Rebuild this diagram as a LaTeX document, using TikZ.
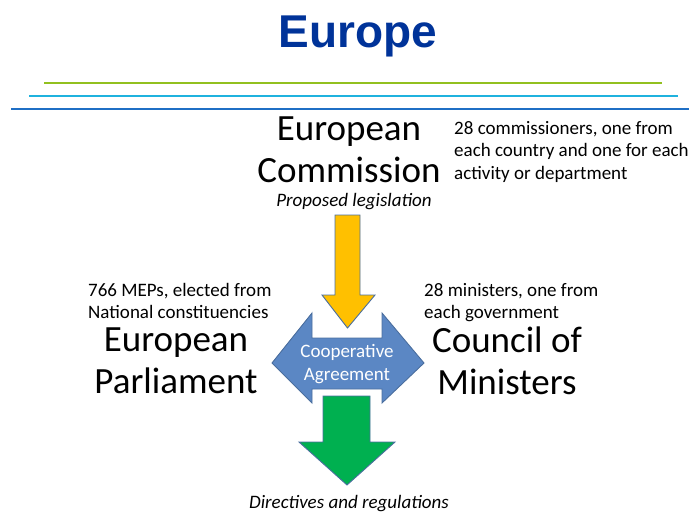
\documentclass[tikz,border=0pt]{standalone}
\usepackage{fontspec}
\setmainfont{Carlito}
\newfontfamily\titlefont{Liberation Sans}
\definecolor{titleblue}{HTML}{003399}
\definecolor{lgreen}{HTML}{92C01F}
\definecolor{lcyan}{HTML}{1FB2DE}
\definecolor{lblue}{HTML}{1F6FC5}
\definecolor{ayellow}{HTML}{FFC000}
\definecolor{ablue}{HTML}{5B87C4}
\definecolor{agreen}{HTML}{00B050}
\definecolor{aedge}{HTML}{4A6E9E}
\begin{document}
\begin{tikzpicture}[x=1pt,y=-1pt,
  bigtxt/.style={font=\fontsize{37}{42}\selectfont, align=center, inner sep=0},
  smalltxt/.style={font=\fontsize{19}{22.5}\selectfont, align=left, inner sep=0, anchor=north west},
  captxt/.style={font=\fontsize{19}{22}\selectfont\itshape, inner sep=0},
  arrowshape/.style={draw=aedge, line width=0.9pt, line join=miter}]
\useasboundingbox (0,0) rectangle (689,514);
% title
\node[font=\titlefont\bfseries\fontsize{46}{50}\selectfont, text=titleblue, inner sep=0] (title) at (358,36) {Europe};
% rules
\draw[lgreen, line width=2pt] (44,83) -- (662,83);
\draw[lcyan, line width=2pt] (29,96) -- (678,96);
\draw[lblue, line width=2pt] (11,109) -- (689,109);
% texts
\node[bigtxt] (ec) at (349,149.5) {European\\Commission};
\node[captxt] (prop) at (354,202) {Proposed legislation};
\node[smalltxt] (ecnote) at (454,121) {28 commissioners, one from\\each country and one for each\\activity or department};
\node[smalltxt] (epnote) at (88,283) {766 MEPs, elected from\\National constituencies};
\node[smalltxt] (cmnote) at (424,283) {28 ministers, one from\\each government};
\node[bigtxt] (ep) at (176,361) {European\\Parliament};
\node[bigtxt] (cm) at (507,361) {Council of\\Ministers};
\node[captxt] (dir) at (349,504) {Directives and regulations};
% yellow arrow
\draw[arrowshape, fill=ayellow] (335,215) -- (360,215) -- (360,295) -- (375,295) -- (347.5,328) -- (322,295) -- (335,295) -- cycle;
% blue double arrow
\draw[arrowshape, fill=ablue] (272,363) -- (312,313) -- (312,338) -- (382,338) -- (382,313) -- (424,363) -- (382,403) -- (382,389) -- (312,389) -- (312,403) -- cycle;
\node[font=\fontsize{19}{23}\selectfont, text=white, align=center, inner sep=0] (coop) at (347,364) {Cooperative\\Agreement};
% green arrow
\draw[arrowshape, fill=agreen] (323,396) -- (370,396) -- (370,442) -- (395,442) -- (347,485) -- (299,442) -- (323,442) -- cycle;
\end{tikzpicture}
\end{document}
